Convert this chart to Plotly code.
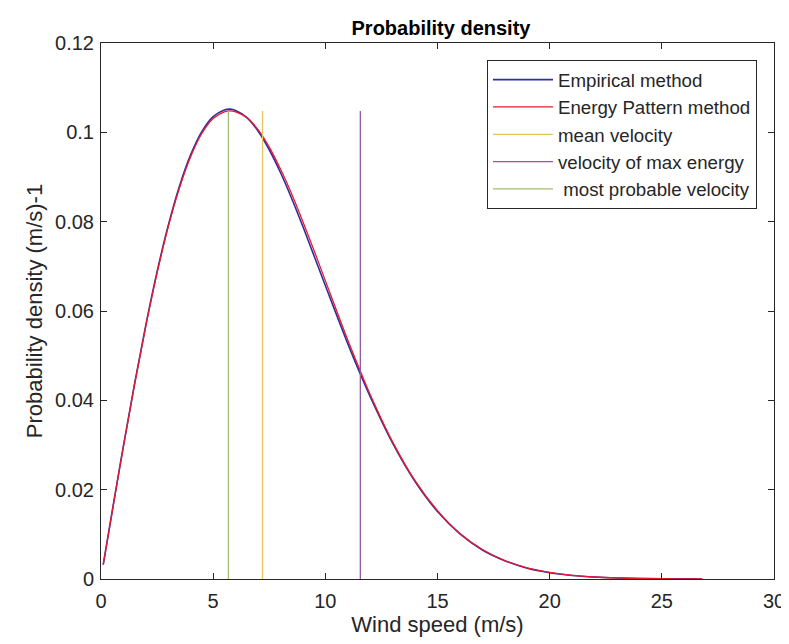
import plotly.graph_objects as go

# Wind speed samples (m/s)
speed = [0.1, 0.5, 1, 1.5, 2, 2.5, 3, 3.5, 4, 4.5, 5, 5.5, 5.75, 6, 6.5, 7, 7.5,
         8, 8.5, 9, 9.5, 10, 11, 11.5, 12, 13, 14, 15, 16, 17, 18, 19, 20,
         21, 22, 23, 24, 25, 26, 26.8]

# Probability density
empirical = [0.0032, 0.0152, 0.0298, 0.0438, 0.0569, 0.0688, 0.0792, 0.0880, 0.0950, 0.1002,
             0.1035, 0.1050, 0.1052, 0.1049, 0.1033, 0.1003, 0.0961, 0.0910, 0.0852, 0.0789,
             0.0723, 0.0657, 0.0527, 0.0466, 0.0408, 0.0304, 0.0218, 0.0151, 0.0101, 0.0065,
             0.0041, 0.0024, 0.0014, 0.0008, 0.00045, 0.00024, 0.00012, 0.00006, 0.00003, 0.00001]

energy_pattern = [0.0032, 0.0151, 0.0297, 0.0437, 0.0567, 0.0685, 0.0789, 0.0876, 0.0946, 0.0998,
                  0.1031, 0.1046, 0.1048, 0.1046, 0.1033, 0.1006, 0.0967, 0.0918, 0.0862, 0.0800,
                  0.0735, 0.0668, 0.0535, 0.0473, 0.0413, 0.0307, 0.0220, 0.0153, 0.0102, 0.0066,
                  0.0041, 0.0025, 0.0015, 0.0008, 0.00045, 0.00024, 0.00012, 0.00006, 0.00003, 0.00001]

# Characteristic velocities (m/s) and height of the marker lines
mean_velocity = 7.2
max_energy_velocity = 11.56
most_probable_velocity = 5.68
marker_top = 0.1048

x_ticks = [0, 5, 10, 15, 20, 25, 30]
y_ticks = [0, 0.02, 0.04, 0.06, 0.08, 0.1, 0.12]
y_tick_labels = ["0", "0.02", "0.04", "0.06", "0.08", "0.1", "0.12"]

FONT = "Liberation Sans, Arial, sans-serif"
INK = "#262626"

fig = go.Figure()
fig.add_trace(go.Scatter(x=speed, y=empirical, mode="lines", name="Empirical method",
                         line=dict(color="#2E2E9E", width=1.6, shape="spline")))
fig.add_trace(go.Scatter(x=speed, y=energy_pattern, mode="lines", name="Energy Pattern method",
                         line=dict(color="#E8192C", width=1.3, shape="spline")))
fig.add_trace(go.Scatter(x=[mean_velocity, mean_velocity], y=[0, marker_top], mode="lines",
                         name="mean velocity", line=dict(color="#E6C35C", width=1.3)))
fig.add_trace(go.Scatter(x=[max_energy_velocity, max_energy_velocity], y=[0, marker_top], mode="lines",
                         name="velocity of max energy", line=dict(color="#8E5A9E", width=1.3)))
fig.add_trace(go.Scatter(x=[most_probable_velocity, most_probable_velocity], y=[0, marker_top], mode="lines",
                         name=" most probable velocity", line=dict(color="#A3BC6E", width=1.3)))

axis_common = dict(showline=True, linecolor=INK, linewidth=1, mirror="ticks",
                   ticks="inside", ticklen=6, tickcolor=INK, showgrid=False,
                   zeroline=False, tickfont=dict(family=FONT, size=20, color=INK))

fig.update_xaxes(range=[0, 30], tickvals=x_ticks, ticklabelstandoff=4, **axis_common,
                 title=dict(text="Wind speed (m/s)", font=dict(family=FONT, size=22, color=INK),
                            standoff=4))
fig.update_yaxes(range=[0, 0.12], tickvals=y_ticks, ticktext=y_tick_labels, ticklabelstandoff=2,
                 **axis_common,
                 title=dict(text="Probability density (m/s)-1", font=dict(family=FONT, size=22, color=INK),
                            standoff=6))

fig.update_layout(
    width=789, height=644,
    margin=dict(l=93, r=16, t=35, b=73),
    paper_bgcolor="white", plot_bgcolor="white",
    title=dict(text="<b>Probability density</b>", x=(93 + 340) / 789, xanchor="center",
               y=1 - 20 / 644, yanchor="middle", yref="container",
               font=dict(family=FONT, size=20, color="black")),
    legend=dict(x=(483 - 93) / 680, y=(571 - 52) / 536, xanchor="left", yanchor="top",
                bgcolor="white", bordercolor=INK, borderwidth=1,
                font=dict(family=FONT, size=18.7, color=INK),
                itemwidth=60, tracegroupgap=0),
    showlegend=True,
)

fig.write_html("out.html")
